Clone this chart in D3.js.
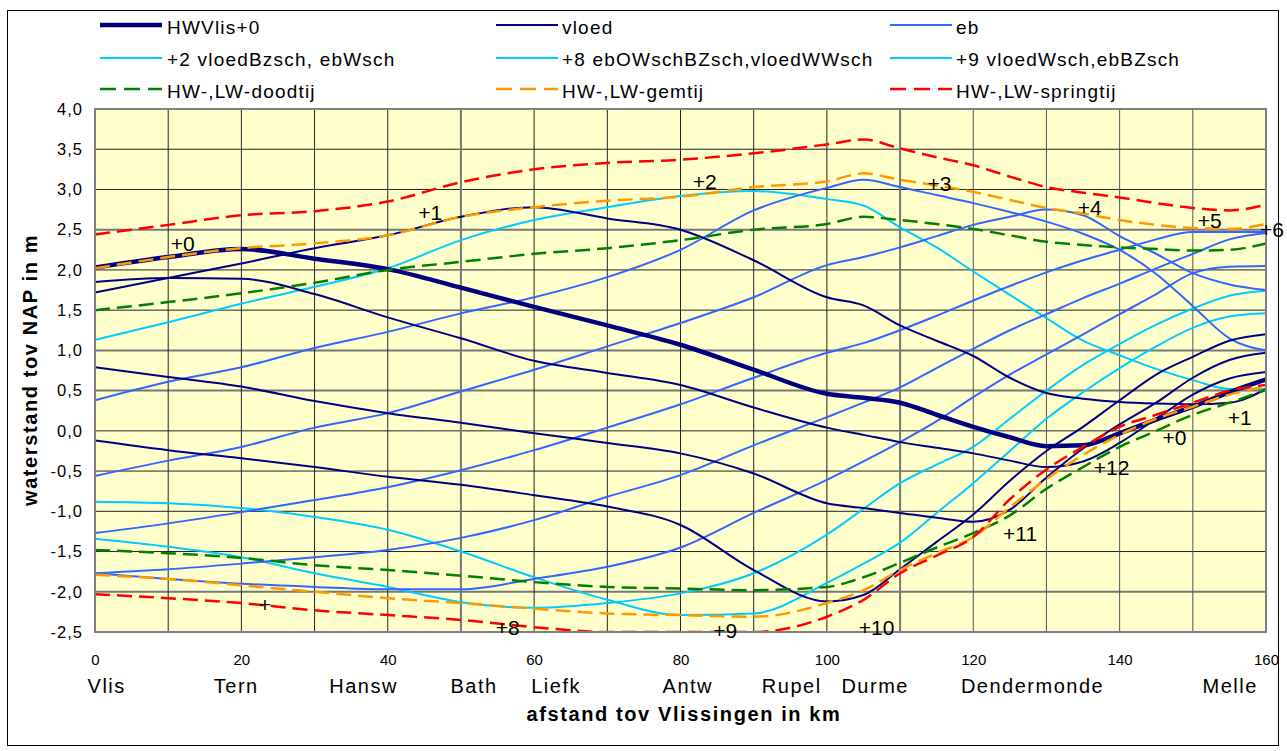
<!DOCTYPE html>
<html><head><meta charset="utf-8">
<script src="https://cdn.jsdelivr.net/npm/d3@7"></script>
<style>
html,body{margin:0;padding:0;background:#fff;}
svg{display:block;font-family:"Liberation Sans",Arial,sans-serif;}
</style></head><body>
<svg id="chart" width="1287" height="751"></svg>
<script>
// ---- data (km along the Scheldt, water level m NAP) ----
const km = [0,10,20,30,40,50,60,70,80,90,100,105,110,115,120,125,130,135,140,145,150,155,160];

const hwVlis0 = [2.03,2.16,2.26,2.14,2.01,1.78,1.54,1.31,1.07,0.76,0.46,0.41,0.35,0.20,0.05,-0.08,-0.19,-0.18,-0.03,0.14,0.30,0.48,0.64];

const vloedA = [1.72,1.90,2.08,2.27,2.43,2.66,2.78,2.64,2.50,2.12,1.66,1.56,1.31,1.12,0.93,0.66,0.47,0.40,0.36,0.34,0.33,0.35,0.52];
const vloedB = [1.85,1.90,1.89,1.70,1.41,1.15,0.87,0.72,0.57,0.29,0.04,-0.05,-0.14,-0.21,-0.28,-0.37,-0.45,-0.38,-0.15,0.15,0.45,0.65,0.73];
const vloedC = [0.79,0.67,0.55,0.37,0.22,0.10,-0.03,-0.15,-0.28,-0.53,-0.90,-0.96,-1.02,-1.08,-1.13,-0.98,-0.58,-0.22,0.08,0.35,0.66,0.88,0.97];
const vloedD = [-0.12,-0.24,-0.34,-0.45,-0.57,-0.67,-0.80,-0.94,-1.17,-1.73,-2.12,-2.04,-1.72,-1.38,-1.04,-0.62,-0.25,0.05,0.38,0.70,0.92,1.12,1.20];

const eb3 = [0.38,0.61,0.79,1.03,1.23,1.46,1.66,1.91,2.25,2.74,3.02,3.12,3.03,2.93,2.83,2.72,2.60,2.45,2.25,1.95,1.55,1.15,1.00];
const eb4 = [-0.56,-0.37,-0.20,0.04,0.22,0.49,0.76,1.05,1.34,1.66,2.06,2.16,2.28,2.42,2.56,2.66,2.75,2.68,2.42,2.20,1.96,1.82,1.75];
const eb5 = [-1.27,-1.15,-1.01,-0.86,-0.70,-0.49,-0.24,0.04,0.33,0.66,0.97,1.09,1.25,1.43,1.62,1.80,1.97,2.12,2.25,2.38,2.47,2.47,2.47];
const eb6 = [-1.77,-1.72,-1.65,-1.57,-1.48,-1.33,-1.11,-0.82,-0.55,-0.18,0.17,0.35,0.54,0.78,1.02,1.25,1.45,1.65,1.83,2.02,2.20,2.38,2.46];
const eb7 = [-1.77,-1.84,-1.90,-1.94,-1.97,-1.97,-1.84,-1.69,-1.45,-1.02,-0.61,-0.38,-0.14,0.12,0.42,0.70,0.95,1.20,1.45,1.70,1.96,2.04,2.05];

const cyan2 = [1.13,1.35,1.58,1.79,2.02,2.37,2.62,2.78,2.92,2.98,2.88,2.80,2.53,2.28,1.98,1.69,1.40,1.12,0.94,0.77,0.63,0.52,0.52];
const cyan8 = [-1.34,-1.44,-1.57,-1.77,-1.94,-2.13,-2.20,-2.14,-2.02,-1.77,-1.29,-0.97,-0.65,-0.42,-0.20,0.15,0.50,0.82,1.08,1.32,1.52,1.68,1.74];
const cyan9 = [-0.88,-0.90,-0.96,-1.07,-1.23,-1.50,-1.82,-2.10,-2.29,-2.27,-1.89,-1.65,-1.39,-1.02,-0.65,-0.25,0.15,0.48,0.78,1.05,1.28,1.42,1.46];

const hwDood = [1.50,1.60,1.71,1.84,2.00,2.10,2.20,2.27,2.37,2.50,2.57,2.66,2.62,2.57,2.51,2.43,2.35,2.31,2.28,2.26,2.24,2.25,2.33];
const lwDood = [-1.48,-1.52,-1.58,-1.67,-1.73,-1.80,-1.88,-1.94,-1.96,-1.98,-1.94,-1.82,-1.64,-1.45,-1.27,-1.05,-0.72,-0.45,-0.20,0.00,0.20,0.35,0.51];
const hwGem = [2.02,2.16,2.27,2.33,2.43,2.66,2.78,2.86,2.91,3.03,3.10,3.20,3.12,3.05,2.97,2.87,2.77,2.70,2.62,2.56,2.52,2.51,2.57];
const lwGem = [-1.79,-1.84,-1.92,-2.00,-2.08,-2.14,-2.21,-2.27,-2.29,-2.31,-2.14,-1.98,-1.73,-1.52,-1.32,-0.95,-0.60,-0.30,-0.05,0.15,0.30,0.45,0.55];
const hwSpring = [2.44,2.56,2.68,2.73,2.85,3.09,3.25,3.33,3.37,3.45,3.56,3.62,3.51,3.40,3.30,3.16,3.03,2.96,2.90,2.83,2.77,2.74,2.81];
const lwSpring = [-2.03,-2.08,-2.14,-2.23,-2.29,-2.35,-2.44,-2.50,-2.50,-2.50,-2.31,-2.10,-1.77,-1.55,-1.32,-0.85,-0.48,-0.20,0.05,0.20,0.35,0.50,0.57];

const yTicks = [-2.5,-2.0,-1.5,-1.0,-0.5,0.0,0.5,1.0,1.5,2.0,2.5,3.0,3.5,4.0];
const xTicks = [0,20,40,60,80,100,120,140,160];
const gridKm = [10,20,30,40,50,60,70,80,90,100,110,120,130,140,150];

const stations = ["Vlis","Tern","Hansw","Bath","Liefk","Antw","Rupel","Durme","Dendermonde","Melle"];
const stationKm = [1.6,19.3,36.7,51.8,63.0,81.0,95.2,106.6,128.1,155.1];

const hourLabels = ["+0","+1","+2","+3","+4","+5","+6","+","+8","+9","+10","+11","+12","+0","+1"];
const hourKm = [12.0,45.8,83.3,115.4,135.9,152.3,160.8,23.2,56.4,86.1,106.8,126.4,138.9,147.5,156.4];
const hourLevel = [2.33,2.71,3.10,3.08,2.77,2.62,2.50,-2.16,-2.45,-2.48,-2.44,-1.27,-0.46,-0.08,0.16];

const legendNames = ["HWVlis+0","vloed","eb","+2 vloedBzsch, ebWsch","+8 ebOWschBZsch,vloedWWsch","+9 vloedWsch,ebBZsch","HW-,LW-doodtij","HW-,LW-gemtij","HW-,LW-springtij"];
const legendStyles = ["thick","navy","blue","cyan","cyan","cyan","green","orange","red"];

// ---- styles ----
const styles = {
  thick:{color:"#000080",width:4.5,dash:null},
  navy:{color:"#000080",width:2,dash:null},
  blue:{color:"#3366FF",width:2,dash:null},
  cyan:{color:"#00CCFF",width:2,dash:null},
  green:{color:"#008000",width:2.5,dash:"15,7"},
  orange:{color:"#FF9900",width:2.5,dash:"15,7"},
  red:{color:"#FF0000",width:2.5,dash:"15,7"}
};

const series = [
  {v:cyan2,s:"cyan"},{v:cyan8,s:"cyan"},{v:cyan9,s:"cyan"},
  {v:eb3,s:"blue"},{v:eb4,s:"blue"},{v:eb5,s:"blue"},{v:eb6,s:"blue"},{v:eb7,s:"blue"},
  {v:vloedA,s:"navy"},{v:vloedB,s:"navy"},{v:vloedC,s:"navy"},{v:vloedD,s:"navy"},
  {v:hwVlis0,s:"thick"},
  {v:hwDood,s:"green"},{v:lwDood,s:"green"},
  {v:hwGem,s:"orange"},{v:lwGem,s:"orange"},
  {v:hwSpring,s:"red"},{v:lwSpring,s:"red"}
];

// ---- chart ----
const svg = d3.select("#chart");
const x = d3.scaleLinear().domain([0,160]).range([95,1266]);
const y = d3.scaleLinear().domain([-2.5,4]).range([632,109]);
const fmt = v => d3.format(".1f")(v).replace(".",",").replace("−","-");

// outer frame
svg.append("rect").attr("x",7.5).attr("y",10.5).attr("width",1271).attr("height",735)
  .attr("fill","#fff").attr("stroke","#000").attr("stroke-width",1);

// plot background
svg.append("rect").attr("x",x(0)).attr("y",y(4)).attr("width",x(160)-x(0)).attr("height",y(-2.5)-y(4))
  .attr("fill","#FFFFCC");

// gridlines
const gGrid = svg.append("g");
const greyY = [2.5,1.0,0.5,-2.0];
gGrid.selectAll("line.h").data(yTicks.filter(t=>t>-2.5 && t<4)).join("line")
  .attr("x1",x(0)).attr("x2",x(160)).attr("y1",d=>y(d)).attr("y2",d=>y(d))
  .attr("stroke",d=>greyY.includes(d)?"#777":"#222").attr("stroke-width",d=>greyY.includes(d)?2:1);
const greyX = [50,110];
gGrid.selectAll("line.v").data(gridKm).join("line")
  .attr("x1",d=>x(d)).attr("x2",d=>x(d)).attr("y1",y(4)).attr("y2",y(-2.5))
  .attr("stroke",d=>greyX.includes(d)?"#777":(d>=120?"#555":"#222")).attr("stroke-width",d=>greyX.includes(d)?2:1);

// clip
svg.append("clipPath").attr("id","clip").append("rect")
  .attr("x",x(0)).attr("y",y(4)-2).attr("width",x(160)-x(0)).attr("height",y(-2.5)-y(4)+3);

const line = d3.line().x((d,i)=>x(km[i])).y(d=>y(d)).curve(d3.curveMonotoneX);
const gLines = svg.append("g").attr("clip-path","url(#clip)");
series.forEach(sr=>{
  const st = styles[sr.s];
  gLines.append("path").attr("d",line(sr.v)).attr("fill","none")
    .attr("stroke",st.color).attr("stroke-width",st.width)
    .attr("stroke-dasharray",st.dash).attr("stroke-linejoin","round");
});

// plot border
svg.append("rect").attr("x",x(0)).attr("y",y(4)).attr("width",x(160)-x(0)).attr("height",y(-2.5)-y(4))
  .attr("fill","none").attr("stroke","#808080").attr("stroke-width",2);

// hour labels
svg.append("g").selectAll("text").data(hourLabels).join("text")
  .attr("x",(d,i)=>x(hourKm[i])).attr("y",(d,i)=>y(hourLevel[i]))
  .attr("text-anchor","middle").attr("dominant-baseline","central")
  .attr("font-size",21).attr("fill","#000").text(d=>d);

// y axis
const yAxis = svg.append("g").attr("transform",`translate(${x(0)},0)`)
  .call(d3.axisLeft(y).tickValues(yTicks).tickSize(0).tickPadding(12).tickFormat(fmt));
yAxis.select(".domain").remove();
yAxis.selectAll("text").attr("font-size",16.5).attr("letter-spacing",1).attr("fill","#000")
  .attr("font-family",'"Liberation Sans",Arial,sans-serif');

// x axis
const xAxis = svg.append("g").attr("transform",`translate(0,${y(-2.5)})`)
  .call(d3.axisBottom(x).tickValues(xTicks).tickSize(0).tickPadding(22).tickFormat(d3.format("d")));
xAxis.select(".domain").remove();
xAxis.selectAll("text").attr("font-size",15).attr("fill","#000")
  .attr("font-family",'"Liberation Sans",Arial,sans-serif');

// station labels
svg.append("g").selectAll("text").data(stations).join("text")
  .attr("x",(d,i)=>x(stationKm[i])).attr("y",693).attr("text-anchor","middle")
  .attr("font-size",20).attr("letter-spacing",1.5).attr("fill","#000").text(d=>d);

// axis titles
svg.append("text").attr("x",684).attr("y",721).attr("text-anchor","middle")
  .attr("font-size",20).attr("font-weight","bold").attr("letter-spacing",1.6).text("afstand tov Vlissingen in km");
svg.append("text").attr("transform","translate(37,370) rotate(-90)").attr("text-anchor","middle")
  .attr("font-size",20).attr("font-weight","bold").attr("letter-spacing",1.6).text("waterstand tov NAP in m");

// legend
const colLine = [100,496,890], colText = [167,562,956];
const rowLine = [25,58,89], rowText = [34,66,97.5];
const gLeg = svg.append("g");
legendNames.forEach((name,i)=>{
  const c = i%3, r = Math.floor(i/3), st = styles[legendStyles[i]];
  gLeg.append("line").attr("x1",colLine[c]).attr("x2",colLine[c]+62)
    .attr("y1",rowLine[r]).attr("y2",rowLine[r]).attr("stroke",st.color)
    .attr("stroke-width",st.width).attr("stroke-dasharray",st.dash?"16,8":null);
  gLeg.append("text").attr("x",colText[c]).attr("y",rowText[r])
    .attr("font-size",19).attr("letter-spacing",1.2).attr("fill","#000").text(name);
});
</script>
</body></html>
